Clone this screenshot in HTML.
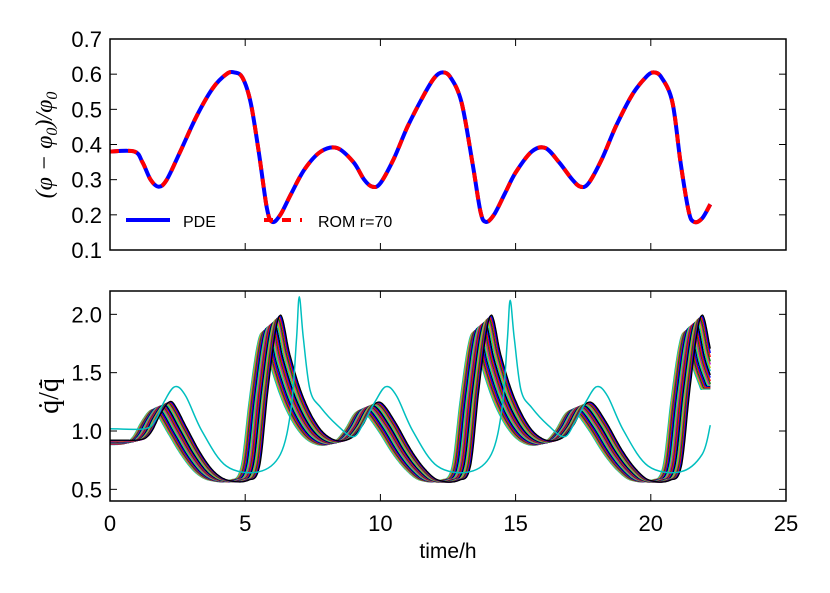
<!DOCTYPE html>
<html><head><meta charset="utf-8"><style>
body{margin:0;background:#fff}
svg{display:block;font-family:"Liberation Sans",sans-serif}
</style></head><body>
<svg id="chart" width="830" height="593" xmlns="http://www.w3.org/2000/svg">
<g id="topPanel"></g>
<g id="botPanel"></g>
<text transform="translate(52,145) rotate(-90)" text-anchor="middle" font-size="24" font-family="'Liberation Serif',serif" font-style="italic">(φ − φ<tspan font-size="16" dy="5">0</tspan><tspan dy="-5">)/φ</tspan><tspan font-size="16" dy="5">0</tspan></text>
<text transform="translate(58,396) rotate(-90)" text-anchor="middle" font-size="28" font-family="'Liberation Serif',serif">q̇/q̄̇</text>
<text x="448" y="558" text-anchor="middle" font-size="21">time/h</text>
</svg>
<script>
const xTicks=[0,5,10,15,20,25];
const topTicks=[0.1,0.2,0.3,0.4,0.5,0.6,0.7];
const botTicks=[0.5,1.0,1.5,2.0];
const phiT=[0,0.9,1.2,1.5,1.8,2.1,2.6,3.2,3.8,4.3,4.6,4.9,5.2,5.5,5.8,6.0,6.3,6.7,7.2,7.8,8.4,9.0,9.4,9.7,10.0,10.5,11.0,11.6,12.0,12.3,12.6,13.0,13.4,13.7,13.9,14.2,14.6,15.0,15.6,16.1,16.6,17.1,17.4,17.7,18.2,18.7,19.3,19.8,20.1,20.4,20.8,21.1,21.4,21.6,21.9,22.2];
const phiV=[0.38,0.38,0.35,0.30,0.28,0.30,0.38,0.48,0.56,0.60,0.605,0.59,0.52,0.38,0.22,0.18,0.20,0.26,0.33,0.38,0.39,0.35,0.30,0.28,0.29,0.36,0.45,0.54,0.59,0.605,0.59,0.52,0.35,0.21,0.18,0.20,0.26,0.32,0.38,0.39,0.35,0.30,0.28,0.29,0.36,0.45,0.54,0.59,0.605,0.59,0.52,0.35,0.21,0.18,0.19,0.23];
const baseT=[0,0.9,1.2,1.5,1.8,2.0,2.5,3.0,3.5,4.0,4.8,5.2,5.5,5.8,6.0,6.3,6.8,7.4,8.0,8.6,9.0,9.4,9.7,10.2,10.8,11.3,11.8,12.6,13.0,13.3,13.6,13.8,14.1,14.6,15.2,15.8,16.4,16.8,17.2,17.5,18.0,18.6,19.1,19.6,20.4,20.8,21.1,21.4,21.6,21.9,22.2];
const baseV=[0.9,0.91,0.97,1.1,1.2,1.2,1.0,0.8,0.65,0.58,0.58,0.7,1.3,1.8,1.9,1.6,1.25,1.0,0.9,0.92,1.02,1.18,1.2,1.05,0.82,0.67,0.58,0.58,0.7,1.3,1.8,1.9,1.6,1.25,1.0,0.9,0.92,1.02,1.18,1.2,1.05,0.82,0.67,0.58,0.58,0.7,1.3,1.8,1.9,1.6,1.4];
const shifts=[-0.35,-0.32,-0.28,-0.25,-0.21,-0.18,-0.14,-0.11,-0.07,-0.04,0.0,0.03,0.07,0.1,0.14,0.17,0.21,0.24,0.28,0.31,0.34];
const amps=[0.95,0.955,0.96,0.965,0.97,0.978,0.985,0.99,0.995,1.0,1.005,1.01,1.015,1.02,1.028,1.035,1.04,1.045,1.05,1.058,1.065];
const outT=[0,1.3,1.7,2.0,2.4,2.8,3.4,4.3,5.5,6.3,6.7,6.9,7.0,7.15,7.4,7.8,8.4,9.0,9.4,9.8,10.2,10.6,11.2,12.1,13.3,14.1,14.5,14.7,14.8,14.95,15.2,15.6,16.2,16.8,17.2,17.6,18.0,18.4,19.0,19.9,21.1,21.9,22.2];
const outV=[1.02,1.02,1.1,1.25,1.38,1.3,1.0,0.7,0.65,0.8,1.2,1.8,2.15,1.8,1.35,1.2,1.05,0.95,1.08,1.25,1.38,1.3,1.0,0.7,0.65,0.8,1.2,1.8,2.12,1.8,1.35,1.2,1.05,0.95,1.08,1.25,1.38,1.3,1.0,0.7,0.65,0.8,1.05];
const palette=['#00bfbf','#bfbf00','#bf00bf','#008000','#ff0000','#0000ff','#000000'];
const NS='http://www.w3.org/2000/svg';
const X0=110,X1=786;
const xs=t=>X0+(t-0)/25*(X1-X0);
const TY0=39,TY1=250,ys1=v=>TY1-(v-0.1)/0.6*(TY1-TY0);
const BY0=291,BY1=501,ys2=v=>BY1-(v-0.4)/1.8*(BY1-BY0);
function mk(tag,attrs,parent){const e=document.createElementNS(NS,tag);for(const k in attrs)e.setAttribute(k,attrs[k]);parent.appendChild(e);return e;}
function smooth(T,V,sx,sy){let p=T.map((t,i)=>[sx(t),sy(V[i])]);let d='M'+p[0][0].toFixed(1)+','+p[0][1].toFixed(1);
for(let i=0;i<p.length-1;i++){const a=p[Math.max(0,i-1)],b=p[i],c=p[i+1],e=p[Math.min(p.length-1,i+2)];
const c1=[b[0]+(c[0]-a[0])/6,b[1]+(c[1]-a[1])/6],c2=[c[0]-(e[0]-b[0])/6,c[1]-(e[1]-b[1])/6];
d+='C'+c1.map(v=>v.toFixed(1)).join(',')+' '+c2.map(v=>v.toFixed(1)).join(',')+' '+c[0].toFixed(1)+','+c[1].toFixed(1);}return d;}
function slope(T,V,i){const a=Math.max(0,i-1),b=Math.min(T.length-1,i+1);return (V[b]-V[a])/(T[b]-T[a]);}
function interp(T,V,t){if(t<=T[0])return V[0];for(let i=1;i<T.length;i++)if(t<=T[i]){const h=T[i]-T[i-1],s=(t-T[i-1])/h;
 const m0=slope(T,V,i-1)*h,m1=slope(T,V,i)*h;const s2=s*s,s3=s2*s;
 return (2*s3-3*s2+1)*V[i-1]+(s3-2*s2+s)*m0+(-2*s3+3*s2)*V[i]+(s3-s2)*m1;}return V[V.length-1];}
function axes(g,y0,y1,ticks,sy,fmt,showX){
 const clip=mk('clipPath',{id:'c'+y0},g);mk('rect',{x:X0,y:y0,width:X1-X0,height:y1-y0},clip);
 xTicks.forEach(t=>{const x=xs(t);const l1=mk('line',{x1:x,x2:x,y1:y1,y2:y1-7,stroke:'#000'},g);
  
  
  mk('line',{x1:x,x2:x,y1:y0,y2:y0+7,stroke:'#000'},g);
  if(showX){const tx=mk('text',{x:x,y:y1+30,'text-anchor':'middle','font-size':'22'},g);tx.textContent=t;
   
   }});
 ticks.forEach(v=>{const y=sy(v);mk('line',{x1:X0,x2:X0+7,y1:y,y2:y,stroke:'#000'},g);mk('line',{x1:X1,x2:X1-7,y1:y,y2:y,stroke:'#000'},g);
  const tx=mk('text',{x:X0-8,y:y+8,'text-anchor':'end','font-size':'22'},g);tx.textContent=fmt(v);
  
  });
}
const topG=document.getElementById('topPanel'),botG=document.getElementById('botPanel');
axes(topG,TY0,TY1,topTicks,ys1,v=>v.toFixed(1),false);
axes(botG,BY0,BY1,botTicks,ys2,v=>v.toFixed(1),true);
const gt=mk('g',{'clip-path':'url(#c'+TY0+')'},topG);
const d1=smooth(phiT,phiV,xs,ys1);
const pde=mk('path',{d:d1,fill:'none',stroke:'#0000ff','stroke-width':4},gt);


const rom=mk('path',{d:d1,fill:'none',stroke:'#ff0000','stroke-width':4,'stroke-dasharray':'9,9'},gt);


const lg=mk('g',{},topG);


mk('line',{x1:126,x2:170,y1:220,y2:220,stroke:'#0000ff','stroke-width':4},lg);
const lt1=mk('text',{x:183,y:227,'font-size':'16'},lg);lt1.textContent='PDE';
mk('line',{x1:264,x2:302,y1:220,y2:220,stroke:'#ff0000','stroke-width':4,'stroke-dasharray':'9,9'},lg);
const lt2=mk('text',{x:318,y:227,'font-size':'16'},lg);lt2.textContent='ROM r=70';
const gb=mk('g',{'clip-path':'url(#c'+BY0+')'},botG);
shifts.forEach((s,k)=>{const T=[],V=[];for(let t=0;t<=22.2001;t+=0.05){T.push(t);const v=interp(baseT,baseV,t-s);V.push(0.58+(v-0.58)*amps[k]);}
 const p=mk('path',{d:smooth(T,V,xs,ys2),fill:'none',stroke:palette[k%7],'stroke-width':1.3},gb);
 
 });
const op=mk('path',{d:smooth(outT,outV,xs,ys2),fill:'none',stroke:'#00bfbf','stroke-width':1.5},gb);


[[TY0,TY1,topG],[BY0,BY1,botG]].forEach(([a,b,g])=>{const r=mk('rect',{x:X0,y:a,width:X1-X0,height:b-a,fill:'none',stroke:'#000','stroke-width':1.5},g);
 
 });
</script>
</body></html>
